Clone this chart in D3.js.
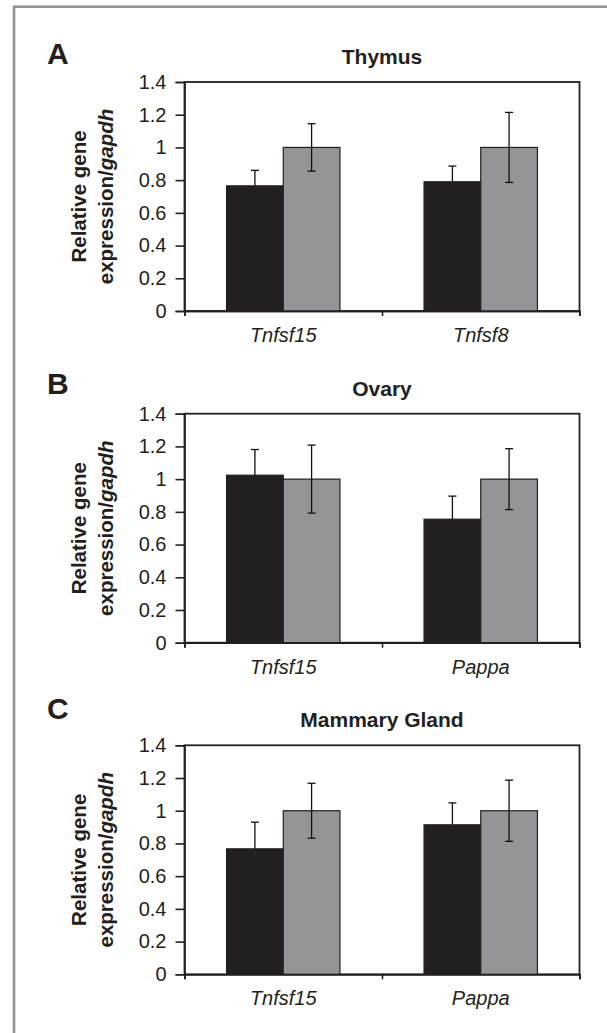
<!DOCTYPE html>
<html>
<head>
<meta charset="utf-8">
<script src="https://cdn.jsdelivr.net/npm/d3@7"></script>
<style>
body { margin: 0; background: #fff; }
text { font-family: "Liberation Sans", Arial, Helvetica, sans-serif; fill: #231f20; }
</style>
</head>
<body>
<div id="chart"></div>
<script>
// data
var tissues = ["Thymus", "Ovary", "Mammary Gland"];
var panelLetters = ["A", "B", "C"];
var genes = [["Tnfsf15", "Tnfsf8"], ["Tnfsf15", "Pappa"], ["Tnfsf15", "Pappa"]];
var blackValues = [[0.765, 0.79], [1.024, 0.755], [0.767, 0.914]];
var blackErrors = [[0.095, 0.096], [0.157, 0.141], [0.163, 0.134]];
var grayValues = [[1.0, 1.0], [1.0, 1.0], [1.0, 1.0]];
var grayErrors = [[0.145, 0.214], [0.208, 0.186], [0.168, 0.187]];
var yTicks = [0, 0.2, 0.4, 0.6, 0.8, 1, 1.2, 1.4];
var series = ["black", "gray"];

var svgWidth = 607;
var svgHeight = 1033;
var plotLeft = 184.5;
var plotWidth = 395;
var plotHeight = 229;
var panelTops = [82, 413.7, 745.3];
var letterOffsets = [18, 20, 26];
var colors = { black: "#231f20", gray: "#939598" };

var svg = d3.select("#chart")
    .append("svg")
    .attr("width", svgWidth)
    .attr("height", svgHeight);

// outer frame, right and bottom edges fall off the page
svg.append("rect")
    .attr("x", 14)
    .attr("y", 6.7)
    .attr("width", 640)
    .attr("height", 1060)
    .attr("fill", "none")
    .attr("stroke", "#939393")
    .attr("stroke-width", 2.6);

var y = d3.scaleLinear()
    .domain([0, 1.4])
    .range([plotHeight, 0]);

tissues.forEach(function(tissue, p) {
    var top = panelTops[p];
    var g = svg.append("g")
        .attr("transform", `translate(${plotLeft}, ${top})`);

    var rows = genes[p].map(function(gene, i) {
        return {
            gene: gene,
            bars: [
                { key: "black", value: blackValues[p][i], err: blackErrors[p][i] },
                { key: "gray", value: grayValues[p][i], err: grayErrors[p][i] }
            ]
        };
    });

    var x0 = d3.scaleBand()
        .domain(genes[p])
        .range([0, plotWidth])
        .paddingInner(0.426)
        .paddingOuter(0.213);

    var x1 = d3.scaleBand()
        .domain(series)
        .range([0, x0.bandwidth()]);

    // box
    g.append("rect")
        .attr("width", plotWidth)
        .attr("height", plotHeight)
        .attr("fill", "none")
        .attr("stroke", "#231f20")
        .attr("stroke-width", 1.8);

    var groups = g.selectAll(".gene")
        .data(rows)
        .enter()
        .append("g")
        .attr("transform", d => `translate(${x0(d.gene)}, 0)`);

    groups.selectAll("rect")
        .data(d => d.bars)
        .enter()
        .append("rect")
        .attr("x", d => x1(d.key))
        .attr("y", d => y(d.value))
        .attr("width", x1.bandwidth())
        .attr("height", d => plotHeight - y(d.value))
        .attr("fill", d => colors[d.key])
        .attr("stroke", "#231f20")
        .attr("stroke-width", 1.2);

    // error bars (the lower whisker of the dark bars is lost in the bar)
    var errs = groups.selectAll(".err")
        .data(d => d.bars)
        .enter()
        .append("g")
        .attr("stroke", "#111")
        .attr("stroke-width", 1.3);

    var cx = d => x1(d.key) + x1.bandwidth() / 2;

    errs.append("line")
        .attr("x1", cx)
        .attr("x2", cx)
        .attr("y1", d => d.key === "gray" ? y(d.value - d.err) : y(d.value))
        .attr("y2", d => y(d.value + d.err));

    errs.append("line")
        .attr("x1", d => cx(d) - 4)
        .attr("x2", d => cx(d) + 4)
        .attr("y1", d => y(d.value + d.err))
        .attr("y2", d => y(d.value + d.err));

    errs.filter(d => d.key === "gray")
        .append("line")
        .attr("x1", d => cx(d) - 4)
        .attr("x2", d => cx(d) + 4)
        .attr("y1", d => y(d.value - d.err))
        .attr("y2", d => y(d.value - d.err));

    // y axis
    var leftAxis = d3.axisLeft(y)
        .tickValues(yTicks)
        .tickFormat(d => String(+d.toFixed(1)))
        .tickSize(9)
        .tickPadding(9);

    var yG = g.append("g").call(leftAxis);
    yG.selectAll("text").attr("font-size", 20).attr("font-family", null);

    // x axis: labels under groups, ticks at group boundaries
    var bottomAxis = d3.axisBottom(x0)
        .tickSize(0)
        .tickPadding(17);

    var xG = g.append("g")
        .attr("transform", `translate(0, ${plotHeight})`)
        .call(bottomAxis);
    xG.selectAll("text")
        .attr("font-size", 20)
        .attr("font-style", "italic")
        .attr("font-family", null);

    var edges = d3.scaleLinear().domain([0, genes[p].length]).range([0, plotWidth]);
    g.append("g")
        .attr("transform", `translate(0, ${plotHeight})`)
        .call(d3.axisBottom(edges).ticks(genes[p].length).tickFormat("").tickSize(5));

    g.selectAll(".domain, .tick line")
        .attr("stroke", "#231f20")
        .attr("stroke-width", 1.6);

    // title
    g.append("text")
        .attr("x", plotWidth / 2)
        .attr("y", -18)
        .attr("text-anchor", "middle")
        .attr("font-weight", "bold")
        .attr("font-size", 21)
        .text(tissue);

    // panel letter
    svg.append("text")
        .attr("x", 47)
        .attr("y", top - letterOffsets[p])
        .attr("font-weight", "bold")
        .attr("font-size", 30)
        .text(panelLetters[p]);

    // y axis title
    var yTitle = svg.append("text")
        .attr("transform", `translate(86, ${top + plotHeight / 2}) rotate(-90)`)
        .attr("text-anchor", "middle")
        .attr("font-weight", "bold")
        .attr("font-size", 20.5);
    yTitle.append("tspan")
        .attr("x", 0)
        .attr("dy", 0)
        .text("Relative gene");
    yTitle.append("tspan")
        .attr("x", 0)
        .attr("dy", 27)
        .text("expression/");
    yTitle.append("tspan")
        .attr("font-style", "italic")
        .text("gapdh");
});
</script>
</body>
</html>
